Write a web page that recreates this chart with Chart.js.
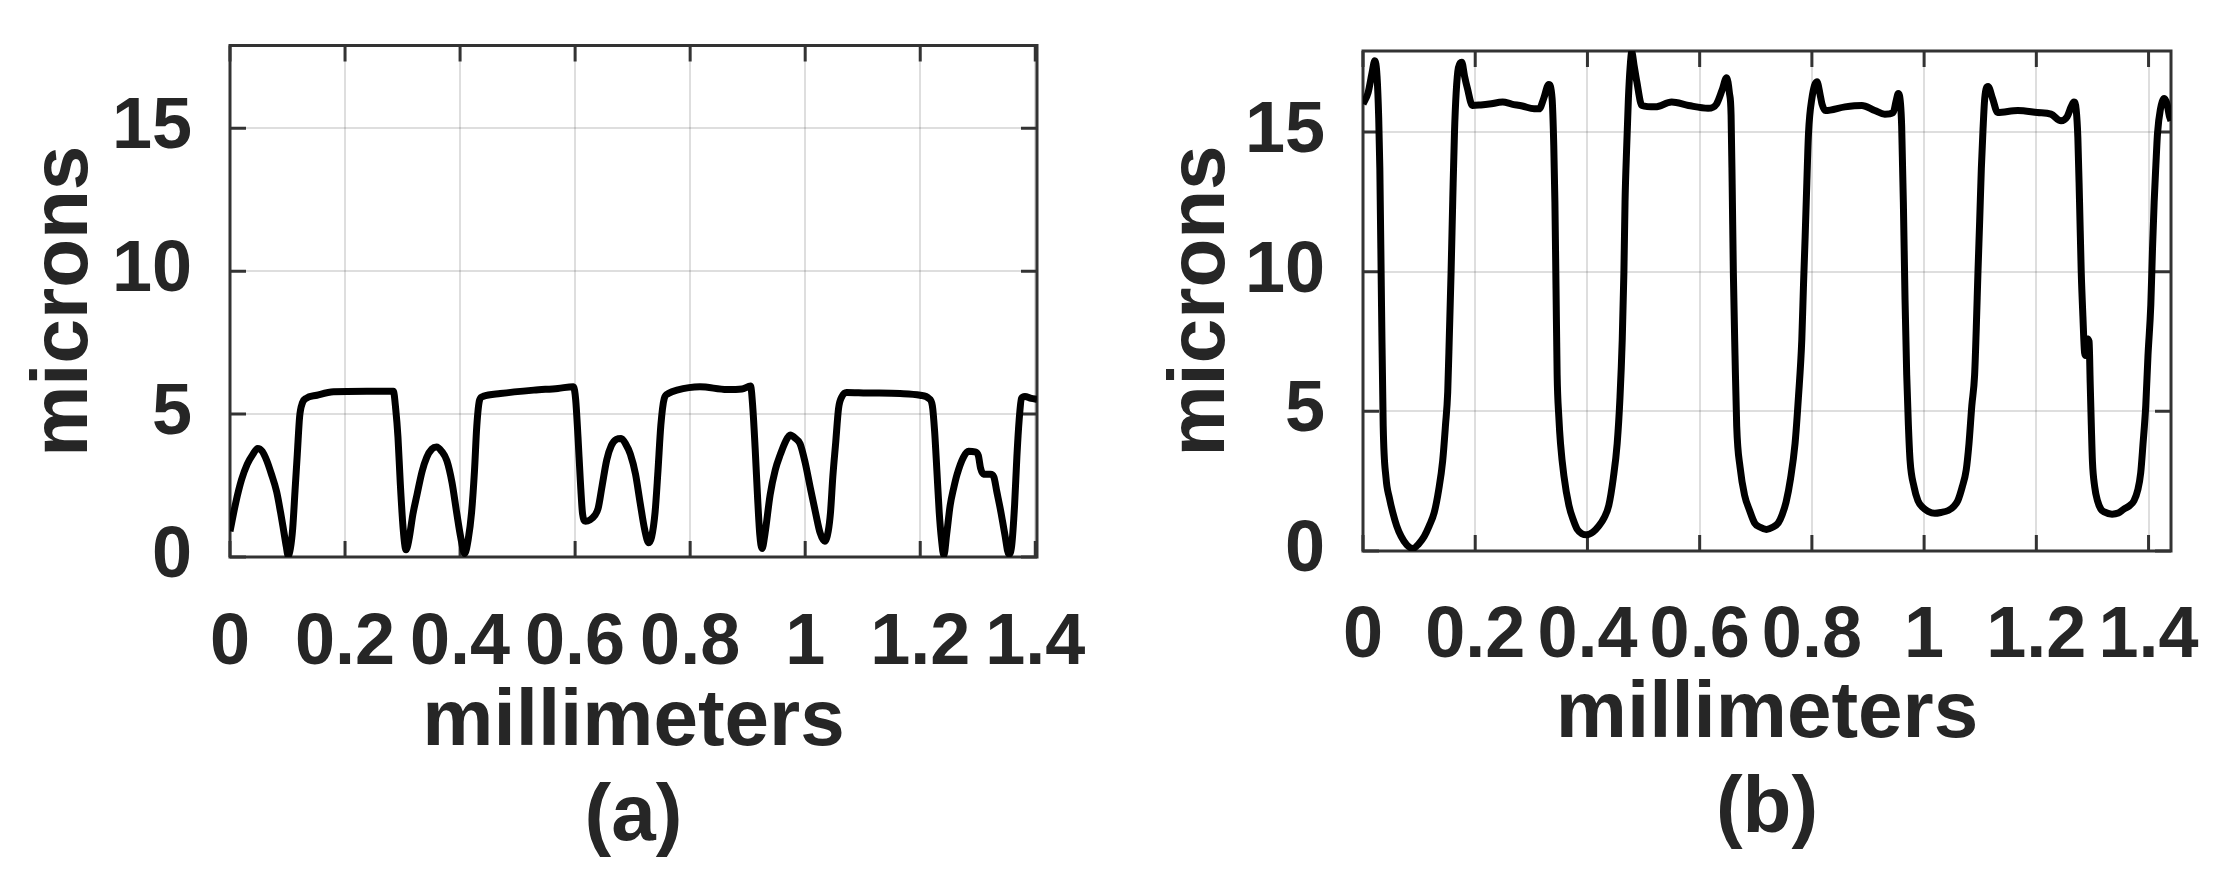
<!DOCTYPE html>
<html>
<head>
<meta charset="utf-8">
<script src="https://cdn.jsdelivr.net/npm/chart.js@4.4.1/dist/chart.umd.min.js"></script>
<style>
    html, body { margin: 0; padding: 0; background: #fff; }
    .panel { position: absolute; top: 0; height: 878px; }
    #panelA { left: 0; width: 1113px; }
    #panelB { left: 1113px; width: 1114px; }
</style>
</head>
<body>
<div class="panel" id="panelA"><canvas id="chartA" width="1113" height="878"></canvas></div>
<div class="panel" id="panelB"><canvas id="chartB" width="1114" height="878"></canvas></div>
<script>
// Tick values shared by both panels
const xTicks = [0, 0.2, 0.4, 0.6, 0.8, 1, 1.2, 1.4];
const yTicks = [0, 5, 10, 15];

// Panel (a) profile, millimeters vs microns
const xA = [0.000, 0.010, 0.020, 0.030, 0.040, 0.048, 0.056, 0.064, 0.072, 0.081, 0.088, 0.093, 0.098, 0.101, 0.105,
    0.109, 0.113, 0.117, 0.121, 0.126, 0.132, 0.151, 0.180, 0.238, 0.284, 0.288, 0.292, 0.296, 0.301, 0.306,
    0.311, 0.318, 0.325, 0.334, 0.342, 0.351, 0.359, 0.368, 0.377, 0.386, 0.394, 0.401, 0.408, 0.414, 0.420,
    0.425, 0.429, 0.434, 0.440, 0.470, 0.528, 0.570, 0.597, 0.601, 0.605, 0.609, 0.613, 0.618, 0.626, 0.634,
    0.640, 0.647, 0.655, 0.663, 0.672, 0.680, 0.688, 0.696, 0.705, 0.713, 0.721, 0.728, 0.733, 0.739, 0.744,
    0.749, 0.755, 0.762, 0.777, 0.817, 0.864, 0.890, 0.905, 0.909, 0.913, 0.917, 0.921, 0.925, 0.930, 0.939,
    0.948, 0.957, 0.966, 0.974, 0.983, 0.991, 1.000, 1.009, 1.018, 1.026, 1.034, 1.040, 1.044, 1.048, 1.053,
    1.058, 1.064, 1.072, 1.107, 1.165, 1.200, 1.215, 1.221, 1.225, 1.229, 1.233, 1.237, 1.241, 1.246, 1.252,
    1.258, 1.264, 1.275, 1.284, 1.295, 1.301, 1.305, 1.310, 1.322, 1.328, 1.333, 1.340, 1.347, 1.354, 1.359,
    1.364, 1.368, 1.372, 1.376, 1.382, 1.393, 1.403];
const yA = [0.90, 1.90, 2.70, 3.25, 3.60, 3.80, 3.70, 3.37, 2.90, 2.29, 1.55, 0.96, 0.35, 0.05, 0.30,
    1.00, 2.30, 3.60, 4.90, 5.40, 5.55, 5.66, 5.78, 5.80, 5.80, 5.20, 4.20, 2.60, 1.00, 0.25,
    0.60, 1.50, 2.17, 3.00, 3.49, 3.78, 3.85, 3.70, 3.37, 2.60, 1.56, 0.70, 0.12, 0.60, 1.56,
    3.00, 4.57, 5.50, 5.62, 5.72, 5.84, 5.90, 5.96, 5.50, 4.20, 2.70, 1.50, 1.25, 1.30, 1.45,
    1.70, 2.50, 3.40, 3.90, 4.12, 4.15, 3.95, 3.60, 2.90, 1.90, 0.95, 0.50, 0.70, 1.56, 3.00,
    4.60, 5.55, 5.72, 5.84, 5.96, 5.86, 5.88, 5.98, 5.20, 3.80, 2.17, 0.80, 0.30, 0.80, 2.17,
    3.05, 3.60, 4.05, 4.27, 4.15, 3.97, 3.30, 2.41, 1.55, 0.84, 0.55, 0.90, 1.56, 2.80, 4.00,
    5.20, 5.62, 5.76, 5.74, 5.72, 5.66, 5.55, 5.30, 4.40, 3.00, 1.56, 0.60, 0.06, 0.80, 1.80,
    2.40, 2.89, 3.49, 3.70, 3.68, 3.55, 3.10, 2.90, 2.90, 2.80, 2.30, 1.60, 0.80, 0.10, 0.40,
    1.80, 3.50, 4.80, 5.55, 5.62, 5.55, 5.52];

// Panel (b) profile
const xB = [0.000, 0.009, 0.016, 0.021, 0.025, 0.028, 0.030, 0.033, 0.036, 0.041, 0.047, 0.053, 0.060, 0.068, 0.078,
    0.089, 0.099, 0.109, 0.118, 0.127, 0.135, 0.142, 0.147, 0.151, 0.154, 0.157, 0.160, 0.163, 0.166, 0.170,
    0.176, 0.181, 0.186, 0.195, 0.210, 0.225, 0.249, 0.265, 0.284, 0.305, 0.314, 0.322, 0.331, 0.337, 0.340,
    0.342, 0.344, 0.346, 0.349, 0.352, 0.358, 0.367, 0.375, 0.382, 0.390, 0.399, 0.410, 0.420, 0.430, 0.438,
    0.446, 0.453, 0.458, 0.462, 0.465, 0.467, 0.470, 0.473, 0.476, 0.479, 0.483, 0.488, 0.497, 0.521, 0.550,
    0.580, 0.615, 0.630, 0.640, 0.648, 0.653, 0.656, 0.658, 0.660, 0.663, 0.666, 0.672, 0.680, 0.689, 0.698,
    0.708, 0.719, 0.730, 0.740, 0.747, 0.754, 0.762, 0.770, 0.776, 0.782, 0.785, 0.788, 0.791, 0.794, 0.800,
    0.809, 0.815, 0.818, 0.824, 0.859, 0.889, 0.912, 0.930, 0.945, 0.950, 0.954, 0.958, 0.960, 0.963, 0.966,
    0.969, 0.972, 0.975, 0.982, 0.989, 0.998, 1.007, 1.019, 1.030, 1.043, 1.053, 1.060, 1.068, 1.075, 1.080,
    1.085, 1.090, 1.093, 1.096, 1.099, 1.102, 1.105, 1.108, 1.114, 1.122, 1.131, 1.167, 1.202, 1.226, 1.244,
    1.255, 1.262, 1.267, 1.271, 1.274, 1.277, 1.280, 1.283, 1.286, 1.288, 1.290, 1.294, 1.296, 1.298, 1.300,
    1.304, 1.309, 1.315, 1.321, 1.335, 1.346, 1.356, 1.366, 1.374, 1.381, 1.386, 1.390, 1.395, 1.399, 1.404,
    1.407, 1.410, 1.413, 1.416, 1.421, 1.428, 1.433, 1.437, 1.440];
const yB = [16.00, 16.40, 17.10, 17.55, 17.00, 15.50, 13.70, 8.80, 4.47, 2.62, 1.90, 1.38, 0.90, 0.52, 0.22,
    0.09, 0.25, 0.52, 0.90, 1.38, 2.20, 3.23, 4.50, 5.70, 7.80, 10.00, 12.60, 14.96, 16.40, 17.30,
    17.50, 17.00, 16.57, 15.95, 15.97, 16.00, 16.07, 16.00, 15.93, 15.83, 15.83, 16.20, 16.70, 16.20, 14.50,
    12.50, 9.40, 6.30, 4.80, 3.85, 2.70, 1.63, 1.10, 0.77, 0.62, 0.58, 0.68, 0.89, 1.20, 1.63,
    2.60, 3.85, 5.50, 7.56, 10.00, 12.50, 14.50, 16.20, 17.30, 17.86, 17.40, 16.80, 15.95, 15.90, 16.07,
    15.95, 15.85, 16.00, 16.50, 16.94, 16.40, 15.60, 13.00, 10.00, 7.00, 4.47, 3.00, 2.00, 1.45, 1.00,
    0.85, 0.77, 0.85, 1.00, 1.30, 1.75, 2.60, 3.85, 5.50, 7.56, 9.50, 11.26, 13.20, 14.96, 16.20,
    16.80, 16.30, 16.00, 15.77, 15.90, 15.95, 15.77, 15.64, 15.70, 16.10, 16.38, 16.00, 15.20, 12.50, 9.00,
    6.30, 4.50, 3.23, 2.30, 1.80, 1.55, 1.42, 1.35, 1.38, 1.45, 1.60, 1.80, 2.30, 2.90, 3.85,
    5.20, 6.30, 8.00, 10.00, 11.80, 13.70, 15.10, 16.20, 16.63, 16.20, 15.70, 15.77, 15.70, 15.64, 15.40,
    15.55, 15.90, 16.07, 15.80, 14.80, 12.50, 10.00, 8.40, 7.10, 7.00, 7.60, 7.50, 6.00, 4.50, 3.20,
    2.30, 1.80, 1.50, 1.40, 1.32, 1.36, 1.50, 1.62, 1.80, 2.20, 2.80, 3.80, 5.20, 7.00, 8.80,
    10.80, 12.50, 13.80, 14.96, 15.80, 16.20, 16.00, 15.58, 15.40];

const INK = '#262626';
const GRID = 'rgba(0, 0, 0, 0.13)';
const FONT = '"Liberation Sans", Arial, Helvetica, sans-serif';

// MATLAB style box with inward tick marks on all four sides
const boxPlugin = {
    id: 'matlabBox',
    beforeDatasetsDraw(chart) {
        const ctx = chart.ctx;
        const area = chart.chartArea;
        const xs = chart.scales.x;
        const ys = chart.scales.y;
        const len = 16;
        ctx.save();
        ctx.strokeStyle = '#333';
        ctx.lineWidth = 3;
        ctx.beginPath();
        xTicks.forEach(v => {
            const px = xs.getPixelForValue(v);
            ctx.moveTo(px, area.bottom);
            ctx.lineTo(px, area.bottom - len);
            ctx.moveTo(px, area.top);
            ctx.lineTo(px, area.top + len);
        });
        yTicks.forEach(v => {
            const py = ys.getPixelForValue(v);
            ctx.moveTo(area.left, py);
            ctx.lineTo(area.left + len, py);
            ctx.moveTo(area.right, py);
            ctx.lineTo(area.right - len, py);
        });
        ctx.stroke();
        ctx.strokeRect(area.left, area.top, area.right - area.left, area.bottom - area.top);
        ctx.restore();
    }
};

// keep the tick labels from pushing the plot area around
function noPadding(s) {
    s.paddingTop = 0;
    s.paddingBottom = 0;
    s.paddingLeft = 0;
    s.paddingRight = 0;
}

function makeChart(canvasId, xs, ys, cfg) {
    const points = xs.map((x, i) => ({ x: x, y: ys[i] }));
    return new Chart(document.getElementById(canvasId), {
        type: 'line',
        data: {
            datasets: [{
                data: points,
                borderColor: '#000',
                borderWidth: 7,
                pointRadius: 0,
                fill: false,
                cubicInterpolationMode: 'monotone'
            }]
        },
        options: {
            responsive: false,
            animation: false,
            layout: {
                padding: { top: cfg.top, right: cfg.right, left: 0, bottom: 0 }
            },
            plugins: {
                legend: { display: false },
                tooltip: { enabled: false }
            },
            scales: {
                x: {
                    type: 'linear',
                    min: 0,
                    max: cfg.xMax,
                    afterBuildTicks: s => { s.ticks = xTicks.map(v => ({ value: v })); },
                    afterFit: s => { s.height = cfg.xAxisHeight; noPadding(s); },
                    ticks: {
                        autoSkip: false,
                        maxRotation: 0,
                        padding: cfg.xTickPad,
                        color: INK,
                        font: { family: FONT, size: 72, weight: 'bold', lineHeight: 1 },
                        callback: v => String(v)
                    },
                    grid: { color: GRID, lineWidth: 2, drawTicks: false },
                    border: { display: false },
                    title: {
                        display: true,
                        text: ['millimeters', cfg.tag],
                        color: INK,
                        font: { family: FONT, size: 80, weight: 'bold', lineHeight: '95px' },
                        padding: { top: 0, bottom: cfg.xTitlePad }
                    }
                },
                y: {
                    type: 'linear',
                    min: 0,
                    max: 17.9,
                    afterBuildTicks: s => { s.ticks = yTicks.map(v => ({ value: v })); },
                    afterFit: s => { s.width = cfg.yAxisWidth; noPadding(s); },
                    ticks: {
                        padding: 38,
                        color: INK,
                        font: { family: FONT, size: 72, weight: 'bold', lineHeight: 1 },
                        callback: v => String(v)
                    },
                    grid: { color: GRID, lineWidth: 2, drawTicks: false },
                    border: { display: false },
                    title: {
                        display: true,
                        text: 'microns',
                        color: INK,
                        font: { family: FONT, size: 80, weight: 'bold', lineHeight: '95px' },
                        padding: { top: cfg.yTitlePad, bottom: 0 }
                    }
                }
            }
        },
        plugins: [boxPlugin]
    });
}

document.addEventListener('DOMContentLoaded', function () {
    makeChart('chartA', xA, yA, {
        tag: '(a)', xMax: 1.403, top: 45.5, right: 76,
        xAxisHeight: 321, yAxisWidth: 230,
        xTickPad: 51, xTitlePad: 13, yTitlePad: 17
    });
    makeChart('chartB', xB, yB, {
        tag: '(b)', xMax: 1.44, top: 51, right: 56,
        xAxisHeight: 327, yAxisWidth: 250,
        xTickPad: 50, xTitlePad: 21, yTitlePad: 41
    });
});
</script>
</body>
</html>
